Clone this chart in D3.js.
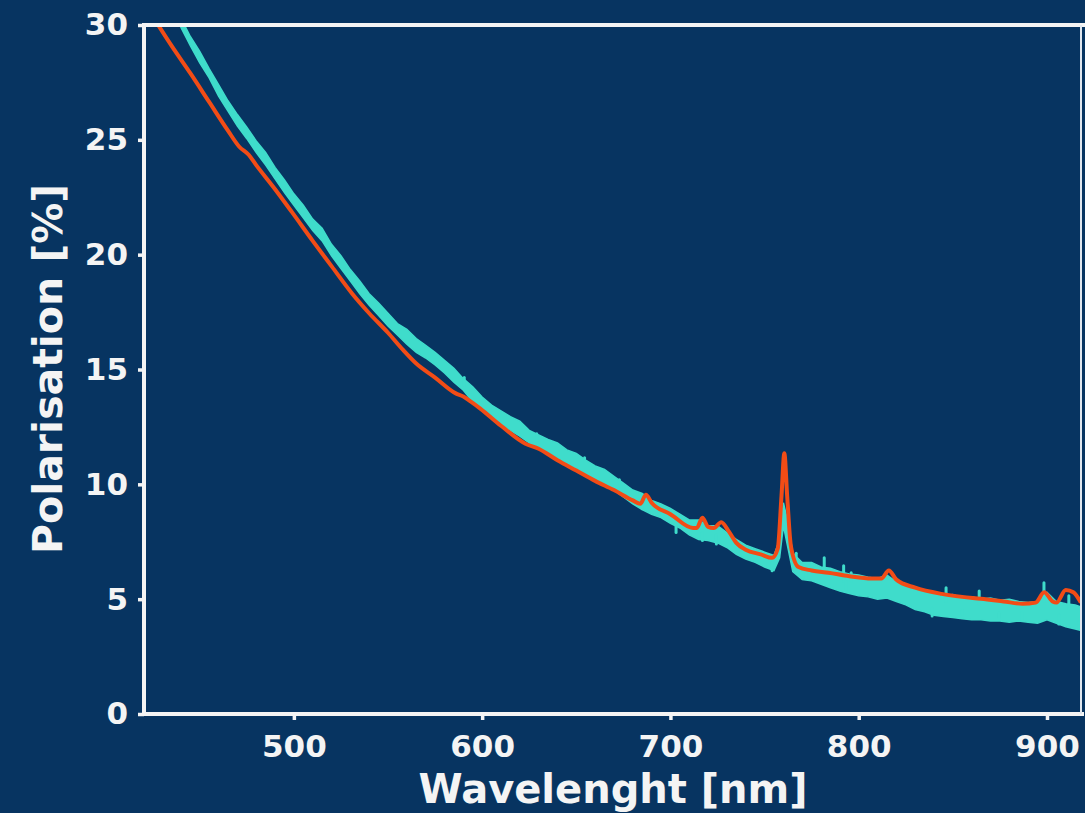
<!DOCTYPE html>
<html>
<head>
<meta charset="utf-8">
<script src="https://cdn.jsdelivr.net/npm/d3@7"></script>
<style>
  body { margin: 0; background: #073461; }
  svg { display: block; }
  text { font-family: "DejaVu Sans", sans-serif; font-weight: bold; fill: #f4f4f4; }
</style>
</head>
<body>
<div id="chart"></div>
<script>
// measured spectrum (cyan): upper / lower edge of the noisy band
var cyanWl = [440,445,450,455,460,465,470,475,480,485,490,495,500,505,510,515,520,525,530,535,
  540,545,550,555,560,565,570,575,580,585,590,595,600,605,610,615,620,625,630,635,
  640,645,650,655,660,665,670,675,680,685,690,695,700,705,710,715,720,725,730,735,
  740,745,750,755,758,760,762,765,770,775,780,785,790,795,800,805,810,815,820,825,
  830,835,840,845,850,855,860,865,870,875,880,885,890,895,900,905,910,915,920];
var cyanHigh = [30.3,29.5,28.85,28.1,27.4,26.7,26.1,25.55,24.95,24.45,23.8,23.25,22.65,22.15,21.55,21.15,20.45,19.95,19.35,18.85,
  18.3,17.9,17.45,17.0,16.75,16.35,16.05,15.75,15.4,15.05,14.6,14.25,13.8,13.45,13.2,12.95,12.75,12.35,12.15,11.95,
  11.8,11.5,11.35,11.05,10.8,10.65,10.35,10.05,9.75,9.6,9.3,9.15,8.95,8.7,8.45,8.45,8.2,8.2,7.9,7.6,
  7.35,7.2,7.05,6.9,7.6,9.2,8.5,7.0,6.6,6.6,6.4,6.35,6.2,6.1,6.05,5.95,5.9,6.05,5.75,5.6,
  5.45,5.35,5.25,5.15,5.2,5.05,5.1,5.0,5.05,4.95,5.0,4.9,4.85,4.9,5.3,4.9,4.8,4.75,4.6];
var cyanLow = [29.9,29.1,28.35,27.7,26.9,26.25,25.6,25.05,24.45,23.9,23.3,22.7,22.15,21.6,21.05,20.6,19.95,19.4,18.85,18.3,
  17.8,17.35,16.9,16.5,16.1,15.75,15.5,15.2,14.85,14.45,14.1,13.6,13.2,12.95,12.6,12.35,12.1,11.8,11.55,11.35,
  11.15,10.9,10.7,10.45,10.2,10.0,9.75,9.45,9.15,8.9,8.7,8.55,8.3,8.1,7.8,7.6,7.55,7.45,7.25,6.95,
  6.75,6.6,6.4,6.25,6.8,8.2,7.4,6.2,5.85,5.8,5.65,5.5,5.35,5.25,5.15,5.1,5.0,5.05,4.9,4.75,
  4.55,4.45,4.3,4.25,4.2,4.15,4.1,4.1,4.05,4.05,4.0,4.05,4.0,3.95,4.1,3.95,3.8,3.7,3.6];

// single noise spikes sticking out of the band
var spikeWl   = [590.5,629,654.4,672.9,685,694,703,717,724.4,754,766.8,772,781.7,
  792,793,796,839,846.4,855,864,874.5,886.7,898.4,906.3,911.6,917];
var spikeFrom = [14.3,11.9,11.0,10.2,9.1,8.8,8.3,7.9,7.8,6.6,6.4,6.2,6.1,
  5.8,5.8,5.8,4.6,4.9,4.5,4.8,4.4,4.4,4.9,4.3,4.6,4.0];
var spikeTo   = [14.65,12.2,11.16,10.07,8.94,8.7,7.9,7.55,7.4,6.24,7.0,5.93,6.8,
  6.45,5.36,6.15,4.27,5.5,4.36,5.36,4.19,4.14,5.71,3.92,5.15,3.75];

// model curve (orange)
var modelWl = [426,435,445,455,465,471,476,480,490,499,510,520,531,540,550,558,565,575,586,590,
  594,599,610,623,630,640,650,660,670,680,684,687,690,700,712,714,717,720,723,727,
  731,735,740,748,754,757,759,760.5,762,764,768,775,784,795,807,812,816,820,830,844,
  855,865,877,887,894,898.5,903,905,910,914,918];
var modelP = [30.25,29.1,27.9,26.65,25.4,24.7,24.35,23.9,22.85,21.85,20.6,19.5,18.3,17.45,16.6,15.85,15.26,14.65,13.96,13.82,
  13.6,13.3,12.55,11.77,11.55,11.05,10.6,10.15,9.75,9.3,9.15,9.55,9.2,8.7,8.1,8.1,8.55,8.15,8.1,8.35,
  7.95,7.45,7.15,6.95,6.8,7.2,9.5,11.35,9.5,7.3,6.4,6.25,6.15,6.0,5.9,5.9,6.25,5.85,5.5,5.23,
  5.1,5.02,4.9,4.8,4.85,5.3,4.9,4.85,5.4,5.3,4.85];

var xTicks = [500, 600, 700, 800, 900];
var yTicks = [0, 5, 10, 15, 20, 25, 30];

var width = 1085, height = 813;
var margin = { top: 25, right: 3, bottom: 99, left: 144 };
var plotW = width - margin.left - margin.right,
    plotH = height - margin.top - margin.bottom;

var svg = d3.select("#chart").append("svg")
    .attr("width", width)
    .attr("height", height);

svg.append("rect")
    .attr("width", width)
    .attr("height", height)
    .attr("fill", "#073461");

var g = svg.append("g")
    .attr("transform", "translate(" + margin.left + "," + margin.top + ")");

var x = d3.scaleLinear().domain([420.4, 918.6]).range([0, plotW]);
var y = d3.scaleLinear().domain([0, 30]).range([plotH, 0]);

g.append("clipPath").attr("id", "clip")
  .append("rect").attr("width", plotW).attr("height", plotH);

var plot = g.append("g").attr("clip-path", "url(#clip)");

var cyan = "#3fdccb";
var cyanData = cyanWl.map(function(w, i) { return { w: w, hi: cyanHigh[i], lo: cyanLow[i] }; });
var area = d3.area()
    .x(function(d) { return x(d.w); })
    .y0(function(d) { return y(d.lo); })
    .y1(function(d) { return y(d.hi); });

plot.append("path")
    .datum(cyanData)
    .attr("d", area)
    .attr("fill", cyan)
    .attr("stroke", cyan)
    .attr("stroke-width", 1.5);

plot.selectAll(".spike")
    .data(spikeWl)
  .enter().append("line")
    .attr("class", "spike")
    .attr("x1", function(d) { return x(d); })
    .attr("x2", function(d) { return x(d); })
    .attr("y1", function(d, i) { return y(spikeFrom[i]); })
    .attr("y2", function(d, i) { return y(spikeTo[i]); })
    .attr("stroke", cyan)
    .attr("stroke-width", 3)
    .attr("stroke-linecap", "round");

var modelData = modelWl.map(function(w, i) { return { w: w, p: modelP[i] }; });
var line = d3.line()
    .x(function(d) { return x(d.w); })
    .y(function(d) { return y(d.p); })
    .curve(d3.curveMonotoneX);

plot.append("path")
    .datum(modelData)
    .attr("d", line)
    .attr("fill", "none")
    .attr("stroke", "#f24c16")
    .attr("stroke-width", 4)
    .attr("stroke-linejoin", "round");

// axes
var xAxis = d3.axisBottom(x).tickValues(xTicks).tickSize(6).tickPadding(8).tickFormat(d3.format("d"));
var yAxis = d3.axisLeft(y).tickValues(yTicks).tickSize(6).tickPadding(10).tickFormat(d3.format("d"));

var gx = g.append("g")
    .attr("transform", "translate(0," + plotH + ")")
    .call(xAxis);
var gy = g.append("g").call(yAxis);

[gx, gy].forEach(function(a) {
  a.select(".domain").remove();
  a.selectAll(".tick line").attr("stroke", "#f4f4f4").attr("stroke-width", 3.5);
  a.selectAll(".tick text").style("font-size", "31px").attr("fill", "#f4f4f4");
});
gx.selectAll(".tick text").attr("dy", "0.95em");

// frame
g.append("line").attr("x1", 0).attr("x2", 0).attr("y1", 0).attr("y2", plotH)
    .attr("stroke", "#f4f4f4").attr("stroke-width", 4);
g.append("line").attr("x1", -2).attr("x2", plotW + 2).attr("y1", plotH).attr("y2", plotH)
    .attr("stroke", "#f4f4f4").attr("stroke-width", 4);
g.append("line").attr("x1", -2).attr("x2", plotW + 3).attr("y1", 0).attr("y2", 0)
    .attr("stroke", "#f4f4f4").attr("stroke-width", 4);
g.append("line").attr("x1", plotW - 1).attr("x2", plotW - 1).attr("y1", 0).attr("y2", plotH)
    .attr("stroke", "#dfe6ee").attr("stroke-width", 2);

// labels
svg.append("text")
    .attr("x", margin.left + plotW / 2)
    .attr("y", 803)
    .attr("text-anchor", "middle")
    .style("font-size", "40px")
    .text("Wavelenght [nm]");

svg.append("text")
    .attr("transform", "translate(62," + 369 + ") rotate(-90)")
    .attr("text-anchor", "middle")
    .style("font-size", "41px")
    .text("Polarisation [%]");
</script>
</body>
</html>
